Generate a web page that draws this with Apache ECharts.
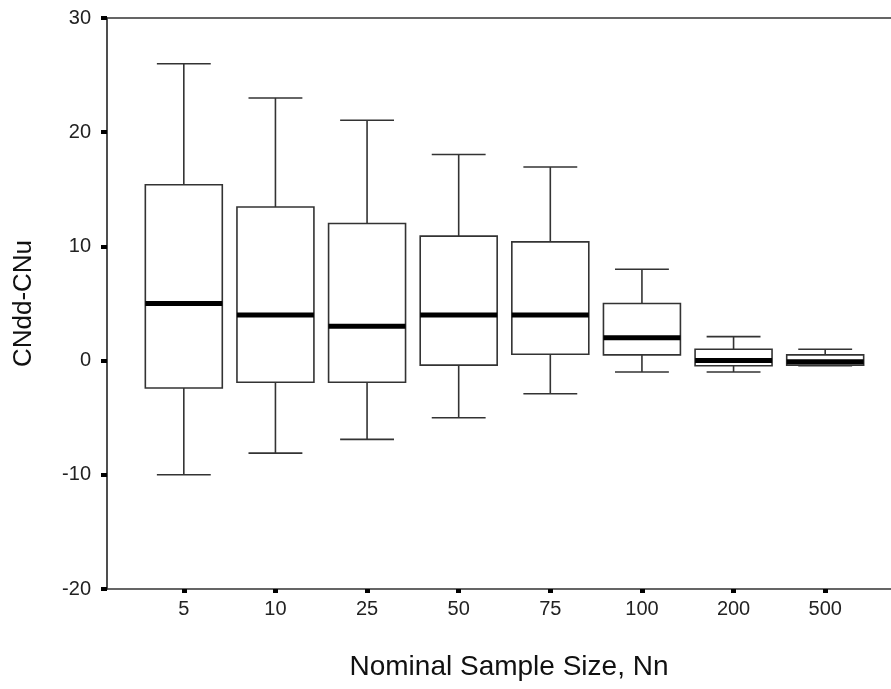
<!DOCTYPE html>
<html>
<head>
<meta charset="utf-8">
<script src="https://cdn.jsdelivr.net/npm/echarts@6/dist/echarts.min.js"></script>
<style>
  html, body { margin: 0; padding: 0; background: #fff; }
  #main { width: 891px; height: 689px; }
</style>
</head>
<body>
<div id="main"></div>
<script>
// nominal sample sizes
const categories = ['5', '10', '25', '50', '75', '100', '200', '500'];
// box plot statistics
const whiskerLow = [-10.0, -8.1, -6.9, -5.0, -2.9, -1.0, -1.0, -0.45];
const q1 = [-2.4, -1.9, -1.9, -0.4, 0.55, 0.5, -0.45, -0.4];
const median = [5.0, 4.0, 3.0, 4.0, 4.0, 2.0, 0.0, -0.1];
const q3 = [15.4, 13.45, 12.0, 10.9, 10.4, 5.0, 1.0, 0.5];
const whiskerHigh = [26.0, 23.0, 21.05, 18.05, 16.95, 8.0, 2.1, 1.0];
const yTicks = [-20, -10, 0, 10, 20, 30];

const FONT = '"Liberation Sans", Arial, sans-serif';

let boxData = categories.map((c, i) => [i, whiskerLow[i], q1[i], median[i], q3[i], whiskerHigh[i]]);

function renderBox(params, api) {
    let x = api.value(0);
    let lo = api.coord([x, api.value(1)]);
    let b1 = api.coord([x, api.value(2)]);
    let md = api.coord([x, api.value(3)]);
    let b3 = api.coord([x, api.value(4)]);
    let hi = api.coord([x, api.value(5)]);
    let band = api.size([1, 0])[0];
    let boxW = band * 0.84;
    let capW = boxW * 0.7;
    let cx = lo[0];
    let line = {stroke: '#333', lineWidth: 1.6};
    return {
        type: 'group',
        children: [
            {type: 'line', shape: {x1: cx, y1: b3[1], x2: cx, y2: hi[1]}, style: line},
            {type: 'line', shape: {x1: cx - capW / 2, y1: hi[1], x2: cx + capW / 2, y2: hi[1]}, style: line},
            {type: 'line', shape: {x1: cx, y1: b1[1], x2: cx, y2: lo[1]}, style: line},
            {type: 'line', shape: {x1: cx - capW / 2, y1: lo[1], x2: cx + capW / 2, y2: lo[1]}, style: line},
            {type: 'rect', shape: {x: cx - boxW / 2, y: b3[1], width: boxW, height: b1[1] - b3[1]},
                style: {fill: '#fff', stroke: '#333', lineWidth: 1.6}},
            {type: 'line', shape: {x1: cx - boxW / 2, y1: md[1], x2: cx + boxW / 2, y2: md[1]},
                style: {stroke: '#000', lineWidth: 5}}
        ]
    };
}

let myChart = echarts.init(document.getElementById('main'));
let option = {
    animation: false,
    backgroundColor: '#fff',
    grid: [
        {left: 138, right: 20, top: 18, bottom: 100},
        {left: 107, right: -2, top: 18, bottom: 100}
    ],
    xAxis: [
        {
            type: 'category',
            gridIndex: 0,
            data: categories,
            name: 'Nominal Sample Size, Nn',
            nameLocation: 'middle',
            nameGap: 64,
            nameTextStyle: {fontFamily: FONT, fontSize: 28, color: '#111', padding: [0, 0, 0, 9]},
            axisLine: {show: false, onZero: false},
            axisTick: {show: true, alignWithLabel: true, length: 4, lineStyle: {color: '#000', width: 5}},
            axisLabel: {fontFamily: FONT, fontSize: 20, color: '#222', margin: 10},
            splitLine: {show: false}
        },
        {
            type: 'value', gridIndex: 1, position: 'bottom', min: 0, max: 1,
            axisLine: {show: true, onZero: false, lineStyle: {color: '#333', width: 1.6}},
            axisTick: {show: false}, axisLabel: {show: false}, splitLine: {show: false}
        },
        {
            type: 'value', gridIndex: 1, position: 'top', min: 0, max: 1,
            axisLine: {show: true, onZero: false, lineStyle: {color: '#333', width: 1.6}},
            axisTick: {show: false}, axisLabel: {show: false}, splitLine: {show: false}
        }
    ],
    yAxis: [
        {
            type: 'value',
            gridIndex: 0,
            min: yTicks[0],
            max: yTicks[yTicks.length - 1],
            interval: 10,
            offset: 31,
            name: 'CNdd-CNu',
            nameLocation: 'middle',
            nameGap: 70,
            nameTextStyle: {fontFamily: FONT, fontSize: 26, color: '#111'},
            axisLine: {show: true, onZero: false, lineStyle: {color: '#222', width: 1.6}},
            axisTick: {show: true, length: 6, lineStyle: {color: '#000', width: 4}},
            axisLabel: {fontFamily: FONT, fontSize: 20, color: '#222', margin: 16},
            splitLine: {show: false}
        },
        {
            type: 'value', gridIndex: 1, min: 0, max: 1,
            axisLine: {show: false}, axisTick: {show: false}, axisLabel: {show: false}, splitLine: {show: false}
        }
    ],
    series: [
        {
            type: 'custom',
            xAxisIndex: 0,
            yAxisIndex: 0,
            renderItem: renderBox,
            encode: {x: 0, y: [1, 2, 3, 4, 5]},
            data: boxData
        }
    ]
};
myChart.setOption(option);
</script>
</body>
</html>
